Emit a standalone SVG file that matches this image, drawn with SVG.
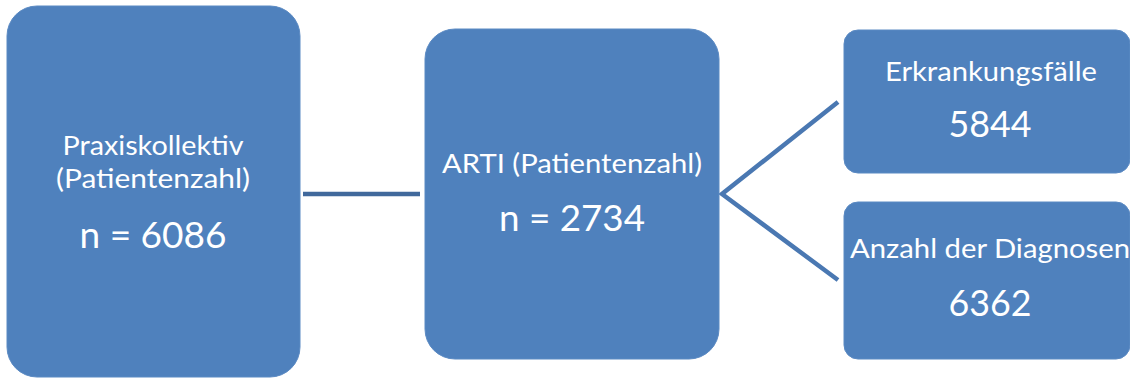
<svg xmlns="http://www.w3.org/2000/svg" width="1130" height="378" viewBox="0 0 1130 378">
  <style>
    .box { fill: #4f81bd; stroke: #5b8ac3; stroke-width: 1; }
    .lbl { fill: #ffffff; font-family: Lato, "Open Sans", "Liberation Sans", sans-serif; text-anchor: middle; }
    .sm { font-size: 26.5px; }
    .lg { font-size: 36.5px; }
    .link { fill: none; stroke-width: 4.5; }
  </style>
  <rect width="1130" height="378" fill="#ffffff"/>

  <g id="connectors">
    <line class="link" x1="303" y1="194" x2="420" y2="194" stroke="#41699c"/>
    <polyline class="link" points="838,102 722,194 838,280" stroke="#4a78b2"/>
  </g>

  <g id="node-praxis">
    <rect class="box" x="7" y="6" width="293" height="371" rx="30" ry="30"/>
    <text class="lbl sm" x="153" y="155" textLength="181" lengthAdjust="spacingAndGlyphs">Praxiskollektiv</text>
    <text class="lbl sm" x="153" y="188" textLength="194" lengthAdjust="spacingAndGlyphs">(Patientenzahl)</text>
    <text class="lbl lg" x="153" y="248" textLength="147" lengthAdjust="spacingAndGlyphs">n = 6086</text>
  </g>

  <g id="node-arti">
    <rect class="box" x="425" y="29" width="294" height="330" rx="30" ry="30"/>
    <text class="lbl sm" x="572" y="173" textLength="260" lengthAdjust="spacingAndGlyphs">ARTI (Patientenzahl)</text>
    <text class="lbl lg" x="572" y="231" textLength="146" lengthAdjust="spacingAndGlyphs">n = 2734</text>
  </g>

  <g id="node-erkrankung">
    <rect class="box" x="844" y="30" width="286" height="143" rx="14" ry="14"/>
    <text class="lbl sm" x="991" y="81" textLength="212" lengthAdjust="spacingAndGlyphs">Erkrankungsfälle</text>
    <text class="lbl lg" x="990" y="137" textLength="83" lengthAdjust="spacingAndGlyphs">5844</text>
  </g>

  <g id="node-diagnosen">
    <rect class="box" x="844" y="202" width="286" height="157" rx="14" ry="14"/>
    <text class="lbl sm" x="990" y="258" textLength="280" lengthAdjust="spacingAndGlyphs">Anzahl der Diagnosen</text>
    <text class="lbl lg" x="990" y="316" textLength="83" lengthAdjust="spacingAndGlyphs">6362</text>
  </g>
</svg>
